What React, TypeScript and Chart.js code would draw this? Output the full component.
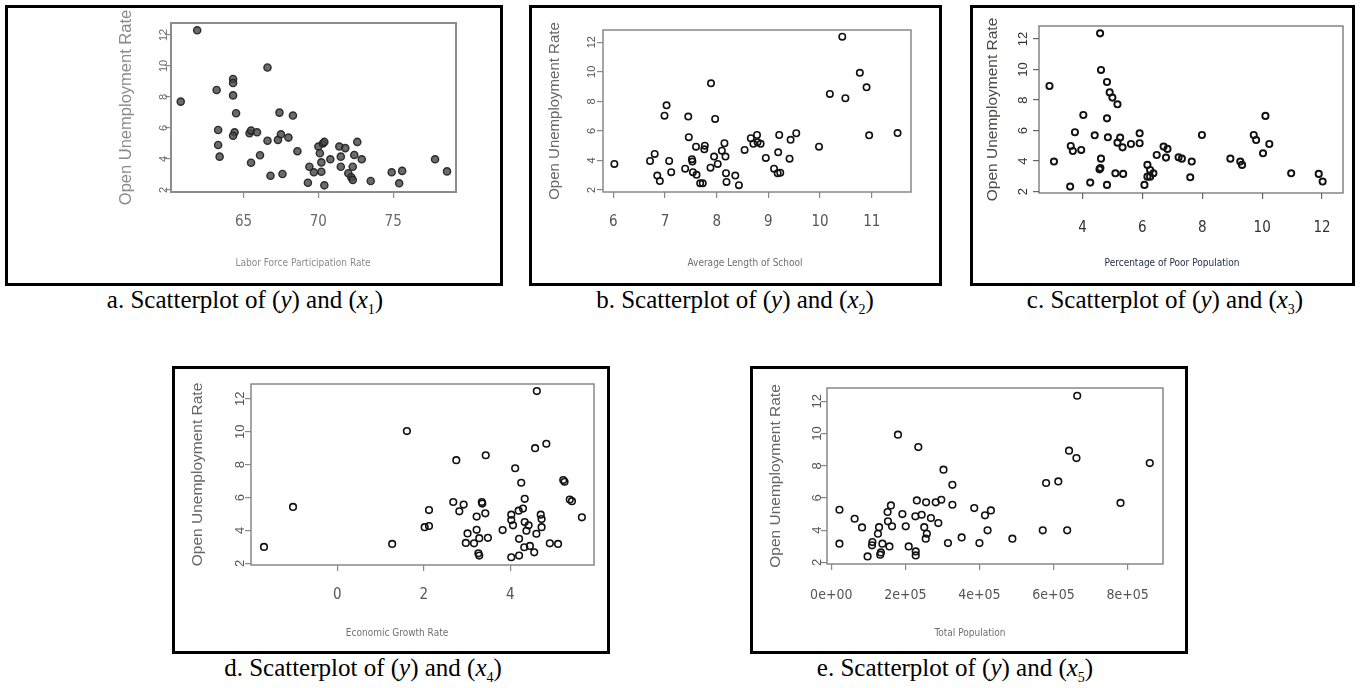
import React, { useEffect, useRef } from "react";
import { Chart, registerables } from "chart.js";

Chart.register(...registerables);

// ---------- shared axis values ----------
const yTickValues = [2, 4, 6, 8, 10, 12];
const yTickLabels = ["2", "4", "6", "8", "10", "12"];
const yTitle = "Open Unemployment Rate";

// ---------- a. Labor force participation rate ----------
const laborX = [60.8, 61.9, 63.2, 63.3, 63.3, 63.4, 64.3, 64.3, 64.3, 64.5, 64.4, 64.3, 65.4, 65.5, 65.9, 65.5, 66.1, 66.6, 66.6, 66.8, 67.4, 67.3, 67.5, 67.6, 68.0, 68.3, 68.6, 69.3, 69.4, 69.7, 70.0, 70.1, 70.2, 70.2, 70.3, 70.4, 70.4, 70.8, 71.4, 71.5, 71.5, 71.8, 72.0, 72.2, 72.3, 72.3, 72.4, 72.6, 72.9, 73.5, 74.9, 75.4, 75.6, 77.8, 78.6];
const laborY = [7.7, 12.3, 8.45, 5.87, 4.9, 4.15, 9.16, 8.9, 8.1, 6.95, 5.72, 5.5, 5.66, 5.83, 5.72, 3.76, 4.24, 9.9, 5.18, 2.92, 6.99, 5.23, 5.59, 3.03, 5.38, 6.8, 4.5, 2.47, 3.5, 3.14, 4.8, 4.37, 3.78, 3.18, 5.0, 5.1, 2.3, 3.98, 4.8, 4.15, 3.5, 4.7, 3.08, 2.82, 2.65, 3.5, 4.26, 5.1, 3.98, 2.58, 3.14, 2.43, 3.23, 3.98, 3.2];
const laborTicks = [65, 70, 75];
const laborTickLabels = ["65", "70", "75"];

// ---------- b. Average length of school ----------
const schoolX = [6.02, 6.71, 6.8, 6.85, 6.9, 6.99, 7.03, 7.08, 7.12, 7.39, 7.45, 7.46, 7.52, 7.53, 7.54, 7.6, 7.61, 7.68, 7.73, 7.76, 7.77, 7.89, 7.88, 7.95, 7.97, 8.02, 8.1, 8.15, 8.17, 8.18, 8.19, 8.36, 8.43, 8.54, 8.66, 8.71, 8.78, 8.79, 8.85, 8.95, 9.11, 9.18, 9.19, 9.21, 9.23, 9.41, 9.43, 9.54, 9.98, 10.19, 10.43, 10.49, 10.77, 10.9, 10.95, 11.5];
const schoolY = [3.76, 3.96, 4.44, 2.97, 2.6, 7.03, 7.73, 3.96, 3.2, 3.44, 6.97, 5.57, 4.08, 3.92, 3.2, 4.93, 3.02, 2.45, 2.45, 4.75, 5.0, 9.22, 3.51, 4.26, 6.81, 3.76, 4.66, 5.16, 4.26, 3.13, 2.54, 2.97, 2.32, 4.71, 5.5, 5.12, 5.72, 5.23, 5.12, 4.17, 3.44, 3.13, 4.55, 5.72, 3.17, 4.12, 5.39, 5.84, 4.93, 8.5, 12.38, 8.21, 9.93, 8.95, 5.7, 5.85];
const schoolTicks = [6, 7, 8, 9, 10, 11];
const schoolTickLabels = ["6", "7", "8", "9", "10", "11"];

// ---------- c. Percentage of poor population ----------
const poorX = [2.9, 3.05, 3.59, 3.61, 3.68, 3.75, 3.96, 4.26, 4.03, 4.41, 4.59, 4.62, 4.62, 4.57, 4.6, 4.82, 4.82, 4.85, 4.82, 4.91, 5.0, 5.17, 5.17, 5.26, 5.1, 5.34, 5.36, 5.62, 5.91, 5.91, 6.07, 6.17, 6.17, 6.26, 6.26, 6.37, 6.48, 6.71, 6.79, 6.84, 7.21, 7.32, 7.6, 7.65, 7.99, 8.94, 9.27, 9.33, 9.72, 9.8, 10.03, 10.11, 10.24, 10.97, 11.89, 12.02];
const poorY = [8.92, 3.97, 2.33, 4.99, 4.66, 5.89, 4.73, 2.59, 7.02, 5.69, 12.37, 9.97, 4.16, 3.46, 3.55, 9.18, 6.8, 5.56, 2.44, 8.5, 8.16, 7.72, 5.21, 5.54, 3.2, 4.9, 3.16, 5.12, 5.82, 5.17, 2.44, 3.75, 2.98, 3.42, 2.98, 3.2, 4.4, 4.95, 4.23, 4.8, 4.25, 4.16, 2.94, 3.97, 5.71, 4.16, 3.97, 3.75, 5.71, 5.38, 4.51, 6.96, 5.12, 3.2, 3.16, 2.66];
const poorTicks = [4, 6, 8, 10, 12];
const poorTickLabels = ["4", "6", "8", "10", "12"];

// ---------- d. Economic growth rate ----------
const growthX = [-1.69, -1.02, 1.27, 1.61, 2.02, 2.12, 2.12, 2.68, 2.75, 2.82, 2.92, 2.97, 3.01, 3.22, 3.22, 3.16, 3.28, 3.26, 3.28, 3.34, 3.35, 3.42, 3.43, 3.48, 3.82, 4.02, 4.02, 4.02, 4.06, 4.11, 4.19, 4.2, 4.2, 4.25, 4.29, 4.33, 4.33, 4.32, 4.37, 4.42, 4.45, 4.6, 4.55, 4.57, 4.61, 4.7, 4.72, 4.72, 4.83, 4.91, 5.1, 5.22, 5.25, 5.37, 5.42, 5.65];
const growthY = [3.0, 5.43, 3.18, 10.04, 4.2, 4.27, 5.24, 5.73, 8.27, 5.16, 5.57, 3.24, 3.82, 4.84, 4.04, 3.22, 3.53, 2.61, 2.47, 5.73, 5.63, 5.04, 8.57, 3.55, 4.02, 4.96, 4.63, 2.37, 4.31, 7.78, 5.2, 3.49, 2.47, 6.9, 5.33, 5.92, 4.51, 2.98, 3.98, 4.31, 3.06, 3.8, 2.67, 9.0, 12.47, 4.96, 4.69, 4.2, 9.27, 3.22, 3.18, 7.06, 6.96, 5.88, 5.78, 4.8];
const growthTicks = [0, 2, 4];
const growthTickLabels = ["0", "2", "4"];

// ---------- e. Total population ----------
const populationX = [22000, 22000, 63000, 83000, 98000, 110000, 111000, 126000, 129000, 132000, 134000, 138000, 152000, 153000, 157000, 161000, 164000, 180000, 192000, 201000, 209000, 227000, 228000, 228000, 231000, 235000, 244000, 251000, 255000, 258000, 256000, 269000, 282000, 289000, 297000, 303000, 315000, 327000, 327000, 352000, 386000, 400000, 415000, 422000, 431000, 489000, 571000, 580000, 613000, 637000, 642000, 662000, 664000, 781000, 860000];
const populationY = [5.27, 3.16, 4.71, 4.17, 2.37, 3.06, 3.26, 3.78, 4.19, 2.48, 2.62, 3.16, 5.13, 4.55, 2.99, 5.54, 4.24, 9.93, 5.0, 4.24, 2.99, 4.86, 2.68, 2.43, 5.85, 9.16, 4.96, 4.19, 3.47, 3.78, 5.73, 4.75, 5.73, 4.44, 5.89, 7.76, 3.2, 6.82, 5.58, 3.55, 5.37, 3.2, 4.92, 3.99, 5.23, 3.47, 3.99, 6.93, 7.03, 3.99, 8.94, 8.48, 12.35, 5.69, 8.17];
const populationTicks = [0, 200000, 400000, 600000, 800000];
const populationTickLabels = ["0e+00", "2e+05", "4e+05", "6e+05", "8e+05"];

const xTitles = [
  "Labor Force Participation Rate",
  "Average Length of School",
  "Percentage of Poor Population",
  "Economic Growth Rate",
  "Total Population",
];
const captionLetters = ["a", "b", "c", "d", "e"];
const captionSubscripts = ["1", "2", "3", "4", "5"];

// ---------- fonts ----------
const SANS = "'Liberation Sans', Arial, sans-serif";
const NARROW = "'Liberation Sans Narrow', 'Arial Narrow', 'DejaVu Sans Condensed', sans-serif";
const SERIF = "'Liberation Serif', 'Times New Roman', serif";

type Panel = {
  xs: number[];
  ys: number[];
  xTicks: number[];
  xLabels: string[];
  xTitle: string;
  box: [number, number, number, number];
  frame: [number, number, number, number];
  xRange: [number, number];
  yRange: [number, number];
  yTickX: number;
  yTickSize: number;
  yTitleX: number;
  yTitleSize: number;
  xTickY: number;
  xTickSize: number;
  xTitleX: number;
  xTitleY: number;
  xTitleSize: number;
  tickColor: string;
  yTitleColor: string;
  xTitleColor: string;
  frameColor: string;
  frameWidth: number;
  tickLen: number;
  filled: boolean;
  pointRadius: number;
  pointBorder: number;
  caption: [number, number];
};

const panels: Panel[] = [
  {
    xs: laborX, ys: laborY, xTicks: laborTicks, xLabels: laborTickLabels, xTitle: xTitles[0],
    box: [5, 5, 503, 286], frame: [171, 23, 456, 192], xRange: [60.15, 79.2], yRange: [1.87, 12.77],
    yTickX: 163.5, yTickSize: 11, yTitleX: 126.5, yTitleSize: 16.5,
    xTickY: 222, xTickSize: 15, xTitleX: 303, xTitleY: 263, xTitleSize: 10,
    tickColor: "#6a6a6a", yTitleColor: "#8a8a8a", xTitleColor: "#8a8a8a",
    frameColor: "#8c8c8c", frameWidth: 2, tickLen: 6,
    filled: true, pointRadius: 3.6, pointBorder: 1.4, caption: [245, 300],
  },
  {
    xs: schoolX, ys: schoolY, xTicks: schoolTicks, xLabels: schoolTickLabels, xTitle: xTitles[1],
    box: [529, 5, 942, 286], frame: [603, 30, 911, 192], xRange: [5.8, 11.76], yRange: [1.86, 12.83],
    yTickX: 591.5, yTickSize: 11, yTitleX: 555, yTitleSize: 15,
    xTickY: 222.5, xTickSize: 15, xTitleX: 745, xTitleY: 263, xTitleSize: 10,
    tickColor: "#555", yTitleColor: "#666", xTitleColor: "#707070",
    frameColor: "#888", frameWidth: 1.5, tickLen: 6,
    filled: false, pointRadius: 3.2, pointBorder: 1.6, caption: [735, 300],
  },
  {
    xs: poorX, ys: poorY, xTicks: poorTicks, xLabels: poorTickLabels, xTitle: xTitles[2],
    box: [970, 5, 1355, 286], frame: [1039, 26, 1343, 193], xRange: [2.55, 12.7], yRange: [1.91, 12.85],
    yTickX: 1023.5, yTickSize: 13, yTitleX: 993, yTitleSize: 15.5,
    xTickY: 228.5, xTickSize: 15, xTitleX: 1172, xTitleY: 263, xTitleSize: 10,
    tickColor: "#333", yTitleColor: "#4d4a46", xTitleColor: "#1f2a44",
    frameColor: "#666", frameWidth: 1.2, tickLen: 6,
    filled: false, pointRadius: 3.1, pointBorder: 1.9, caption: [1165, 300],
  },
  {
    xs: growthX, ys: growthY, xTicks: growthTicks, xLabels: growthTickLabels, xTitle: xTitles[3],
    box: [172, 366, 610, 654], frame: [251, 384, 594, 565], xRange: [-1.99, 5.93], yRange: [1.9, 12.9],
    yTickX: 240, yTickSize: 13, yTitleX: 197.5, yTitleSize: 15.5,
    xTickY: 595, xTickSize: 15, xTitleX: 397, xTitleY: 633, xTitleSize: 10,
    tickColor: "#555", yTitleColor: "#666", xTitleColor: "#707070",
    frameColor: "#888", frameWidth: 1.5, tickLen: 6,
    filled: false, pointRadius: 3.3, pointBorder: 1.6, caption: [363, 668],
  },
  {
    xs: populationX, ys: populationY, xTicks: populationTicks, xLabels: populationTickLabels, xTitle: xTitles[4],
    box: [750, 366, 1188, 654], frame: [827, 388, 1163, 564], xRange: [-11600, 895700], yRange: [1.9, 12.83],
    yTickX: 817, yTickSize: 13, yTitleX: 776, yTitleSize: 15.5,
    xTickY: 595, xTickSize: 14, xTitleX: 970, xTitleY: 633, xTitleSize: 10,
    tickColor: "#555", yTitleColor: "#666", xTitleColor: "#707070",
    frameColor: "#888", frameWidth: 1.5, tickLen: 6,
    filled: false, pointRadius: 3.3, pointBorder: 1.6, caption: [955, 668],
  },
];

const BORDER = 3;

function measureWidest(labels: string[], size: number, family: string): number {
  const c = document.createElement("canvas").getContext("2d")!;
  c.font = `${size}px ${family}`;
  return Math.max(...labels.map((l) => c.measureText(l).width));
}

function ScatterPanel({ p }: { p: Panel }) {
  const ref = useRef<HTMLCanvasElement>(null);
  const [L, T, R, B] = p.box;
  const cl = L + BORDER;
  const ct = T + BORDER;
  const cw = R - L - 2 * BORDER;
  const ch = B - T - 2 * BORDER;

  useEffect(() => {
    const canvas = ref.current!;
    const [fl, ft, fr, fb] = p.frame;
    const cr = cl + cw;
    const cb = ct + ch;
    const yAxisW = fl - cl;
    const xAxisH = cb - fb;
    const widest = measureWidest(yTickLabels, p.yTickSize, SANS);
    const yTickPad = fl - p.tickLen - widest / 2 - p.yTickX;
    const xTickLH = p.xTickSize * 1.2;
    const xTickPad = p.xTickY - fb - p.tickLen - xTickLH / 2;
    const yTitleLH = p.yTitleSize * 1.2;
    const yTitlePad = p.yTitleX - cl - yTitleLH / 2;

    const framePlugin = {
      id: "rframe",
      beforeDatasetsDraw(chart: any) {
        const { ctx, chartArea: a } = chart;
        ctx.save();
        ctx.strokeStyle = p.frameColor;
        ctx.lineWidth = p.frameWidth;
        ctx.strokeRect(a.left, a.top, a.right - a.left, a.bottom - a.top);
        ctx.restore();
      },
      afterDraw(chart: any) {
        const { ctx } = chart;
        ctx.save();
        ctx.font = `${p.xTitleSize}px ${NARROW}`;
        ctx.fillStyle = p.xTitleColor;
        ctx.textAlign = "center";
        ctx.textBaseline = "middle";
        ctx.fillText(p.xTitle, p.xTitleX - cl, p.xTitleY - ct);
        ctx.restore();
      },
    };

    const chart = new Chart(canvas, {
      type: "scatter",
      data: {
        datasets: [
          {
            data: p.xs.map((x, i) => ({ x, y: p.ys[i] })),
            pointRadius: p.pointRadius,
            pointBorderWidth: p.pointBorder,
            pointBorderColor: p.filled ? "rgba(30,30,30,0.9)" : "#111",
            pointBackgroundColor: p.filled ? "rgba(70,70,70,0.8)" : "rgba(0,0,0,0)",
            pointHoverRadius: p.pointRadius,
          },
        ],
      },
      options: {
        animation: false,
        responsive: false,
        devicePixelRatio: 1,
        events: [],
        layout: { padding: { left: 0, top: ft - ct, right: cr - fr, bottom: 0 } },
        plugins: { legend: { display: false }, tooltip: { enabled: false } },
        scales: {
          x: {
            type: "linear",
            position: "bottom",
            min: p.xRange[0],
            max: p.xRange[1],
            afterBuildTicks: (s: any) => {
              s.ticks = p.xTicks.map((v) => ({ value: v }));
            },
            afterFit: (s: any) => {
              s.height = xAxisH;
            },
            grid: {
              display: true,
              drawOnChartArea: false,
              drawTicks: true,
              tickLength: p.tickLen,
              color: p.frameColor,
              lineWidth: 1.2,
            },
            border: { display: false },
            ticks: {
              autoSkip: false,
              minRotation: 0,
              maxRotation: 0,
              padding: xTickPad,
              color: p.tickColor,
              font: { family: NARROW, size: p.xTickSize, lineHeight: 1.2 },
              callback: (_v: any, i: number) => p.xLabels[i],
            },
            title: { display: false },
          },
          y: {
            type: "linear",
            position: "left",
            min: p.yRange[0],
            max: p.yRange[1],
            afterBuildTicks: (s: any) => {
              s.ticks = yTickValues.map((v) => ({ value: v }));
            },
            afterFit: (s: any) => {
              s.width = yAxisW;
            },
            grid: {
              display: true,
              drawOnChartArea: false,
              drawTicks: true,
              tickLength: p.tickLen,
              color: p.frameColor,
              lineWidth: 1.2,
            },
            border: { display: false },
            ticks: {
              autoSkip: false,
              minRotation: 90,
              maxRotation: 90,
              crossAlign: "center",
              padding: yTickPad,
              color: p.tickColor,
              font: { family: SANS, size: p.yTickSize, lineHeight: 1.2 },
              callback: (_v: any, i: number) => yTickLabels[i],
            },
            title: {
              display: true,
              text: yTitle,
              color: p.yTitleColor,
              font: { family: SANS, size: p.yTitleSize, lineHeight: 1.2 },
              padding: { top: yTitlePad, bottom: 0 },
            },
          },
        },
      },
      plugins: [framePlugin],
    } as any);
    return () => chart.destroy();
  }, []);

  return (
    <>
      <div
        style={{
          position: "absolute",
          left: L,
          top: T,
          width: R - L,
          height: B - T,
          border: `${BORDER}px solid #000`,
          boxSizing: "border-box",
        }}
      />
      <canvas
        ref={ref}
        width={cw}
        height={ch}
        style={{ position: "absolute", left: cl, top: ct, width: cw, height: ch }}
      />
    </>
  );
}

function Caption({ i }: { i: number }) {
  const [cx, cy] = panels[i].caption;
  return (
    <div
      style={{
        position: "absolute",
        left: cx - 250,
        top: cy - 15,
        width: 500,
        height: 30,
        lineHeight: "30px",
        textAlign: "center",
        fontFamily: SERIF,
        fontSize: 25,
        color: "#000",
        whiteSpace: "nowrap",
      }}
    >
      {captionLetters[i]}. Scatterplot of (<i>y</i>) and (<i>x</i>
      <span style={{ fontSize: 14, position: "relative", top: 6 }}>{captionSubscripts[i]}</span>)
    </div>
  );
}

export default function App() {
  return (
    <div
      style={{
        position: "absolute",
        left: 0,
        top: 0,
        width: 1360,
        height: 688,
        background: "#fff",
        overflow: "hidden",
      }}
    >
      {panels.map((p, i) => (
        <ScatterPanel key={i} p={p} />
      ))}
      {panels.map((_p, i) => (
        <Caption key={"c" + i} i={i} />
      ))}
    </div>
  );
}
